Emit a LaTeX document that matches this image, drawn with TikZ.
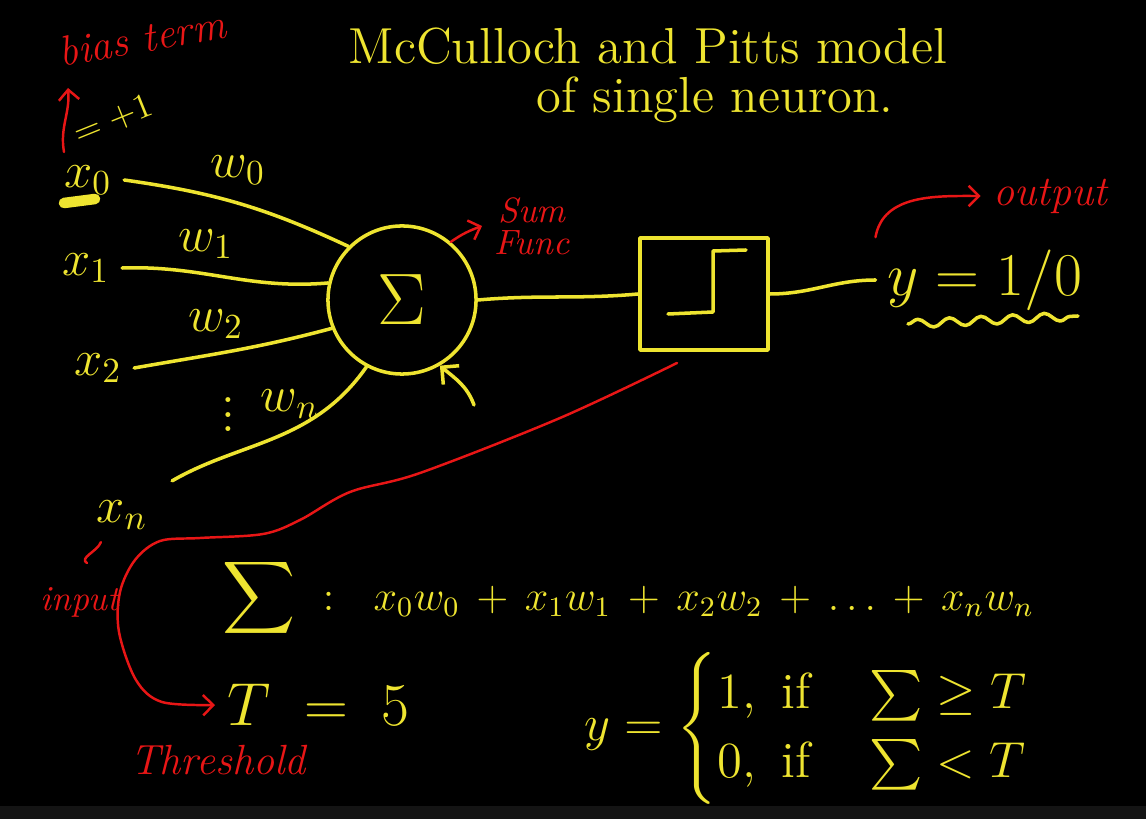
\documentclass[tikz,border=0pt]{standalone}
\usepackage{amsmath,amssymb}
\usetikzlibrary{arrows.meta,decorations.pathmorphing}
\begin{document}
\begin{tikzpicture}[x=0.01cm, y=-0.01cm, line cap=round, line join=round]
  \definecolor{chalk}{RGB}{238,228,48}
  \definecolor{pen}{RGB}{232,22,22}
  \tikzset{
    ink/.style={chalk, line width=1pt},
    redline/.style={pen, line width=0.7pt},
    lbl/.style={text=chalk, font=\Large},
    note/.style={text=pen, font=\large\itshape},
  }
  \fill[black] (0,0) rectangle (1146,819);
  \fill[black!92] (0,806) rectangle (1146,819);
  \useasboundingbox (0,0) rectangle (1146,819);
  % heading
  \node[lbl] (title) at (648,46) {McCulloch and Pitts model};
  \node[lbl] (subtitle) at (715,100) {of single neuron.};
  % inputs and weights
  \node[lbl] (x0) at (88,180) {$x_0$};
  \node[lbl] (x1) at (86,268) {$x_1$};
  \node[lbl] (x2) at (98,368) {$x_2$};
  \node[lbl] (xn) at (122,515) {$x_n$};
  \node[lbl, font=\normalsize, rotate=22] (one) at (113,120) {$=+1$};
  \draw[ink, line width=3pt] (64,203) -- (95,199);
  \node[lbl] (w0) at (238,170) {$w_0$};
  \node[lbl] (w1) at (206,244) {$w_1$};
  \node[lbl] (w2) at (216,324) {$w_2$};
  \node[lbl, inner sep=1pt] (dots) at (228,404) {$\vdots$};
  \node[lbl, inner sep=1pt] (wn) at (290,404) {$w_n$};
  % summing unit and step unit
  \node[draw, ink, circle, minimum size=1.48cm, text=chalk, font=\huge] (sum) at (402,300) {$\Sigma$};
  \node[draw, ink, minimum width=1.28cm, minimum height=1.12cm] (act) at (704,294) {};
  \draw[ink] (668,314) -- (713,312) -- (713,251) -- (746,250);
  \node[lbl, font=\LARGE] (out) at (985,280) {$y = 1/0$};
  \draw[ink, decorate, decoration={snake, amplitude=1.2pt, segment length=9pt}] (908,324) -- (1078,316);
  \draw[ink] (x0.east) to[out=-8,in=155] (sum.135);
  \draw[ink] (x1.east) to[out=2,in=185] (sum.167);
  \draw[ink] (x2.east) to[out=10,in=195] (sum.202);
  \draw[ink, shorten <=4pt] (xn.north east) to[out=30,in=235] (sum.242);
  \draw[ink] (sum.east) to[out=5,in=185] (act.west);
  \draw[ink] (act.east) to[out=0,in=180] (out.west);
  \coordinate (biasin) at (474,405);
  \draw[ink, -{Straight Barb}] (biasin) to[out=110,in=-40] (sum.-60);
  % equations
  \node[lbl, font=\large, anchor=west, inner sep=1pt] (sumeq) at (218,598)
    {{\Large$\displaystyle\sum$}\ \ $:\ \ x_0w_0 \,+\, x_1w_1 \,+\, x_2w_2 \,+\, \dots \,+\, x_nw_n$};
  \node[lbl, font=\LARGE, anchor=west] (T) at (215,705) {$T \;=\; 5$};
  \node[lbl, anchor=west, inner sep=1pt] (rule) at (580,728)
    {$y = \begin{cases} 1,\ \text{if}\quad \textstyle\sum \geq T\\[-2pt] 0,\ \text{if}\quad \textstyle\sum < T\end{cases}$};
  % red notes
  \node[note, rotate=10] (bias) at (142,38) {bias term};
  \coordinate (biastip) at (68,88);
  \draw[redline, -{Straight Barb}] (64,152) to[out=100,in=-85] (biastip);
  \node[note, font=\normalsize\itshape, align=center] (sumnote) at (532,226) {Sum\\[-3pt]Func};
  \draw[redline, -{Straight Barb}] (sum.50) to[out=35,in=200] (sumnote.west);
  \node[note] (outnote) at (1050,196) {output};
  \draw[redline, -{Straight Barb}] (out.north west) to[out=80,in=180] (outnote.west);
  \node[note, font=\normalsize\itshape] (innote) at (80,602) {input};
  \draw[redline] ([xshift=-6pt]xn.south) to[out=-110,in=150] (87,563);
  \node[note] (thrnote) at (218,760) {Threshold};
  \coordinate (thr) at (677,363);
  \draw[redline, -{Straight Barb}] plot[smooth, tension=0.55] coordinates {(thr) (560,418) (420,473) (350,492) (300,520) (263,534) (200,538) (160,541) (135,560) (120,592) (119,632) (136,680) (162,702) (T.west)};
\end{tikzpicture}
\end{document}
